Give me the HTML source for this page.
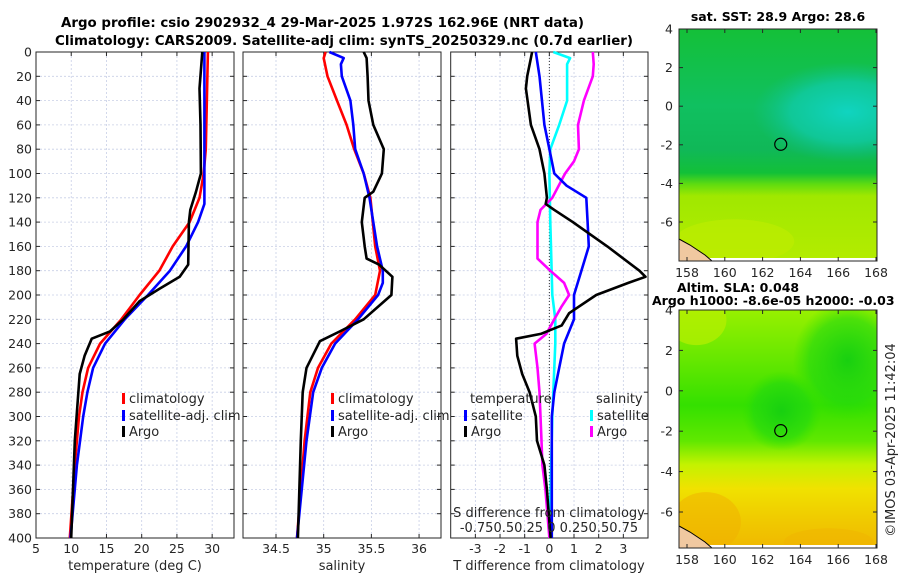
<!DOCTYPE html>
<html><head><meta charset="utf-8"><style>
html,body{margin:0;padding:0;background:#fff;}
svg{display:block;font-family:"DejaVu Sans","Liberation Sans",sans-serif;}
</style></head><body>
<svg id="fig" width="900" height="580" viewBox="0 0 900 580" xmlns="http://www.w3.org/2000/svg">
<defs>
<linearGradient id="sstGrad" x1="0" y1="0" x2="0" y2="1">
<stop offset="0" stop-color="#14c038"/><stop offset="0.33" stop-color="#10c060"/><stop offset="0.52" stop-color="#10b858"/><stop offset="0.62" stop-color="#12c038"/><stop offset="0.67" stop-color="#60dc10"/><stop offset="0.72" stop-color="#a0e800"/><stop offset="1" stop-color="#b4ec00"/>
</linearGradient>
<radialGradient id="tealBlob"><stop offset="0" stop-color="#10d4c0" stop-opacity="1"/><stop offset="0.6" stop-color="#10ccb0" stop-opacity="0.7"/><stop offset="1" stop-color="#10c090" stop-opacity="0"/></radialGradient>
<linearGradient id="slaGrad" x1="0" y1="0" x2="0" y2="1">
<stop offset="0" stop-color="#98f000"/><stop offset="0.2" stop-color="#68e800"/><stop offset="0.4" stop-color="#34e000"/><stop offset="0.55" stop-color="#60e800"/><stop offset="0.65" stop-color="#c4f200"/><stop offset="0.75" stop-color="#f0e200"/><stop offset="0.87" stop-color="#f0cc00"/><stop offset="1" stop-color="#f0b800"/>
</linearGradient>
<radialGradient id="greenBlob"><stop offset="0" stop-color="#18d010" stop-opacity="1"/><stop offset="0.7" stop-color="#20d810" stop-opacity="0.6"/><stop offset="1" stop-color="#30e000" stop-opacity="0"/></radialGradient>
<clipPath id="clipTop"><rect x="679" y="29" width="198" height="232"/></clipPath>
<clipPath id="clipBot"><rect x="679" y="310" width="198" height="238"/></clipPath>
</defs>
<text x="61" y="27" font-size="13" font-weight="bold" textLength="523" lengthAdjust="spacingAndGlyphs">Argo profile: csio 2902932_4 29-Mar-2025 1.972S 162.96E (NRT data)</text>
<text x="55" y="45" font-size="13" font-weight="bold" textLength="578" lengthAdjust="spacingAndGlyphs">Climatology: CARS2009. Satellite-adj clim: synTS_20250329.nc (0.7d earlier)</text>
<g id="panels"></g>
<g id="maps"></g>
<text transform="translate(895,440) rotate(-90)" text-anchor="middle" font-size="13" fill="#262626">©IMOS 03-Apr-2025 11:42:04</text>
</svg>
<script>
// ---------- data ----------
const depthTicks = [0,20,40,60,80,100,120,140,160,180,200,220,240,260,280,300,320,340,360,380,400];
const tempTicks = [5,10,15,20,25,30];
const salTicks = [34.5,35,35.5,36];
const dTicks = [-3,-2,-1,0,1,2,3];

const climTDepth = [0,80,100,120,140,160,180,200,220,240,260,280,300,340,400];
const climT = [29.4,29.1,28.8,28.2,26.8,24.4,22.5,19.7,17.1,14.1,12.4,11.6,11.1,10.5,9.8];
const satTDepth = [0,120,125,140,160,180,200,220,240,260,280,300,340,400];
const satT = [28.9,28.9,28.9,28.0,26.3,24.0,20.9,17.6,14.8,13.1,12.3,11.7,10.8,9.9];
const argoTDepth = [0,30,60,100,115,130,140,175,185,195,205,220,230,236,250,265,320,400];
const argoT = [28.6,28.2,28.35,28.4,27.7,26.9,26.7,26.6,25.4,22.5,19.7,17.4,15.5,12.9,11.9,11.2,10.5,10.0];

const climSDepth = [0,5,20,40,60,80,100,120,160,180,200,220,240,260,280,320,400];
const climS = [35.02,35.0,35.04,35.14,35.24,35.32,35.42,35.49,35.54,35.59,35.54,35.33,35.08,34.94,34.86,34.80,34.72];
const satSDepth = [0,5,10,20,40,60,80,100,120,160,180,190,200,220,240,260,280,320,400];
const satS = [35.06,35.21,35.18,35.19,35.28,35.31,35.33,35.42,35.48,35.56,35.62,35.62,35.57,35.36,35.12,34.98,34.89,34.82,34.72];
const argoSDepth = [0,5,20,40,60,80,100,115,120,140,160,170,175,185,200,220,230,238,260,280,320,400];
const argoS = [35.42,35.45,35.46,35.47,35.52,35.63,35.61,35.52,35.43,35.40,35.43,35.45,35.58,35.72,35.71,35.42,35.17,34.96,34.82,34.78,34.76,34.73];

const satDTDepth = [0,20,60,80,100,110,120,140,160,180,200,220,240,260,280,300,400];
const satDT = [-0.55,-0.4,-0.2,0,0.2,0.7,1.5,1.55,1.6,1.3,1.0,1.0,0.6,0.4,0.2,0.1,0.1];
const argoDTDepth = [0,5,20,30,60,80,100,120,125,130,140,160,180,185,190,200,215,225,232,236,250,265,280,300,320,340,360,400];
const argoDT = [-0.7,-0.75,-0.9,-0.95,-0.75,-0.4,-0.2,-0.1,-0.15,0.2,0.95,2.35,3.65,3.9,3.2,1.9,0.8,0.5,-0.35,-1.35,-1.3,-1.1,-0.8,-0.55,-0.5,-0.2,-0.1,0.05];
const satDSDepth = [0,5,10,40,60,80,100,140,200,220,240,300,400];
const satDS = [0.04,0.21,0.18,0.18,0.10,0.01,0,0.01,0.03,0.06,0.06,0.03,0];
const argoDSDepth = [0,10,20,40,60,80,90,100,120,130,140,160,170,180,190,200,210,220,232,240,260,280,300,320,340,360,400];
const argoDS = [0.44,0.45,0.44,0.35,0.29,0.30,0.25,0.16,0.03,-0.09,-0.12,-0.12,-0.12,0.01,0.15,0.2,0.12,0.05,-0.03,-0.15,-0.12,-0.1,-0.09,-0.08,-0.07,-0.04,0];

// ---------- helpers ----------
const NS = "http://www.w3.org/2000/svg";
const Y0 = 52, Y1 = 538;
const yDepth = d => Y0 + d * (Y1 - Y0) / 400;
function el(tag, attrs, parent){ const e=document.createElementNS(NS,tag); for(const k in attrs) e.setAttribute(k,attrs[k]); parent.appendChild(e); return e; }
const panels = document.getElementById('panels');

function makePanel(name, x0, x1, vmin, vmax, xticks, xtickLabels, showDepthLabels){
  const g = el('g',{},panels);
  
  
  const xs = v => x0 + (v - vmin) * (x1 - x0) / (vmax - vmin);
  depthTicks.forEach(d=>{
    const l = el('line',{x1:x0,x2:x1,y1:yDepth(d),y2:yDepth(d),stroke:'#c8cfe6','stroke-width':0.8,'stroke-dasharray':'2,2'},g);
    
    
    el('line',{x1:x0,x2:x0+4,y1:yDepth(d),y2:yDepth(d),stroke:'#262626','stroke-width':1},g);
    el('line',{x1:x1-4,x2:x1,y1:yDepth(d),y2:yDepth(d),stroke:'#262626','stroke-width':1},g);
    if(showDepthLabels){
      const t = el('text',{x:x0-4,y:yDepth(d)+4.5,'text-anchor':'end','font-size':12.5,fill:'#262626'},g);
      
      
      t.textContent = d;
    }
  });
  xticks.forEach((v,i)=>{
    const l = el('line',{x1:xs(v),x2:xs(v),y1:Y0,y2:Y1,stroke:'#c8cfe6','stroke-width':0.8,'stroke-dasharray':'2,2'},g);
    
    
    el('line',{x1:xs(v),x2:xs(v),y1:Y1-4,y2:Y1,stroke:'#262626','stroke-width':1},g);
    el('line',{x1:xs(v),x2:xs(v),y1:Y0,y2:Y0+4,stroke:'#262626','stroke-width':1},g);
    const t = el('text',{x:xs(v),y:553,'text-anchor':'middle','font-size':12.5,fill:'#262626'},g);
    
    
    t.textContent = xtickLabels[i];
  });
  const b = el('rect',{x:x0,y:Y0,width:x1-x0,height:Y1-Y0,fill:'none',stroke:'#262626','stroke-width':1},g);
  
  
  return {g, xs};
}
function drawLine(p, vals, depths, color, name, scale){
  const pts = vals.map((v,i)=>p.xs(v*(scale||1)).toFixed(1)+','+yDepth(depths[i]).toFixed(1)).join(' ');
  const l = el('polyline',{points:pts,fill:'none',stroke:color,'stroke-width':2.6,'stroke-linejoin':'round'},p.g);
  
  
}
function legendEntry(g,xBar,y,color,label,name){
  el('rect',{x:xBar,y:y-10,width:3,height:11,fill:color},g);
  const t = el('text',{x:xBar+7,y:y,'font-size':13,fill:'#262626'},g);
  t.textContent = label;
  
  
}
function label(g,x,y,txt,name,anchor,size){
  const t = el('text',{x:x,y:y,'text-anchor':anchor||'middle','font-size':size||13,fill:'#262626'},g);
  
  
  t.textContent = txt;
  return t;
}

// ---------- panel 1: temperature ----------
const p1 = makePanel('temperature-panel',36,234,5,33.1,tempTicks,tempTicks.map(String),true);
drawLine(p1,climT,climTDepth,'#ff0000','climatology-temperature-line');
drawLine(p1,satT,satTDepth,'#0000ff','satellite-temperature-line');
drawLine(p1,argoT,argoTDepth,'#000000','argo-temperature-line');
legendEntry(p1.g,122,403,'#ff0000','climatology','legend-climatology');
legendEntry(p1.g,122,420,'#0000ff','satellite-adj. clim','legend-satellite-adj');
legendEntry(p1.g,122,436,'#000000','Argo','legend-argo');
label(p1.g,135,570,'temperature (deg C)','x-axis-title-temperature');

// ---------- panel 2: salinity ----------
const p2 = makePanel('salinity-panel',243,441,34.154,36.23,salTicks,salTicks.map(String),false);
drawLine(p2,climS,climSDepth,'#ff0000','climatology-salinity-line');
drawLine(p2,satS,satSDepth,'#0000ff','satellite-salinity-line');
drawLine(p2,argoS,argoSDepth,'#000000','argo-salinity-line');
legendEntry(p2.g,331,403,'#ff0000','climatology','legend-climatology-2');
legendEntry(p2.g,331,420,'#0000ff','satellite-adj. clim','legend-satellite-adj-2');
legendEntry(p2.g,331,436,'#000000','Argo','legend-argo-2');
label(p2.g,342,570,'salinity','x-axis-title-salinity');

// ---------- panel 3: differences ----------
const p3 = makePanel('difference-panel',450.7,648,-4,4,dTicks,dTicks.map(String),false);
const z = el('line',{x1:p3.xs(0),x2:p3.xs(0),y1:Y0,y2:Y1,stroke:'#333','stroke-width':1,'stroke-dasharray':'1,2'},p3.g);


drawLine(p3,satDS,satDSDepth,'#00ffff','satellite-salinity-diff-line',4);
drawLine(p3,argoDS,argoDSDepth,'#ff00ff','argo-salinity-diff-line',4);
drawLine(p3,satDT,satDTDepth,'#0000ff','satellite-temperature-diff-line');
drawLine(p3,argoDT,argoDTDepth,'#000000','argo-temperature-diff-line');
label(p3.g,470,403,'temperature','legend-temperature-header','start');
legendEntry(p3.g,464,420,'#0000ff','satellite','legend-temp-satellite');
legendEntry(p3.g,464,436,'#000000','Argo','legend-temp-argo');
label(p3.g,596,403,'salinity','legend-salinity-header','start');
legendEntry(p3.g,590,420,'#00ffff','satellite','legend-sal-satellite');
legendEntry(p3.g,590,436,'#ff00ff','Argo','legend-sal-argo');
label(p3.g,549,517,'S difference from climatology','s-diff-axis-title');
label(p3.g,549,532,'-0.750.50.25 0  0.250.50.75','s-diff-tick-labels');
label(p3.g,549,570,'T difference from climatology','x-axis-title-tdiff');

// ---------- maps ----------
const maps = document.getElementById('maps');
const lonTicks = [158,160,162,164,166,168];
const latTicks = [4,2,0,-2,-4,-6];
const argoLon = 162.96, argoLat = -1.972;
const lonX = lon => 687 + (lon-158)*18.9;
function makeMap(name, top, bottom, pxPerDeg, fillGrad, clip, title){
  const g = el('g',{},maps);
  
  
  const latY = lat => top + (4-lat)*pxPerDeg;
  const inner = el('g',{'clip-path':'url(#'+clip+')'},g);
  el('rect',{x:679,y:top,width:198,height:bottom-top,fill:'url(#'+fillGrad+')'},inner);
  if(name==='sst-map'){
    el('ellipse',{cx:lonX(166.5),cy:latY(-0.3),rx:95,ry:50,fill:'url(#tealBlob)'},inner);
    el('ellipse',{cx:lonX(160.5),cy:latY(-7),rx:60,ry:22,fill:'#c0ec00',opacity:0.6},inner);
  } else {
    el('ellipse',{cx:lonX(158.5),cy:latY(3.5),rx:30,ry:25,fill:'#b8f000',opacity:0.7},inner);
    el('ellipse',{cx:lonX(163),cy:latY(-1),rx:40,ry:40,fill:'url(#greenBlob)'},inner);
    el('ellipse',{cx:lonX(166.5),cy:latY(1.5),rx:55,ry:60,fill:'url(#greenBlob)'},inner);
    el('ellipse',{cx:lonX(159),cy:latY(-6.5),rx:35,ry:30,fill:'#f0b000',opacity:0.5},inner);
    el('ellipse',{cx:lonX(165.5),cy:latY(-7.5),rx:45,ry:14,fill:'#f0b400',opacity:0.5},inner);
  }
  el('rect',{x:679,y:bottom-3,width:198,height:3,fill:'#fff'},inner);
  el('path',{d:'M679,'+(bottom-22)+' L690,'+(bottom-16)+' L705,'+(bottom-6)+' L712,'+bottom+' L679,'+bottom+'Z',fill:'#f0c8a0',stroke:'#000','stroke-width':1},inner);
  const c = el('circle',{cx:lonX(argoLon),cy:latY(argoLat),r:6,fill:'none',stroke:'#000','stroke-width':1.2},g);
  
  
  el('rect',{x:679,y:top,width:198,height:bottom-top,fill:'none',stroke:'#262626','stroke-width':1},g);
  lonTicks.forEach(lon=>{
    el('line',{x1:lonX(lon),x2:lonX(lon),y1:bottom,y2:bottom-4,stroke:'#262626'},g);
    el('line',{x1:lonX(lon),x2:lonX(lon),y1:top,y2:top+4,stroke:'#262626'},g);
    label(g,lonX(lon),bottom+16,String(lon),'lon-tick-label','middle',12.5);
  });
  latTicks.forEach(lat=>{
    el('line',{x1:679,x2:683,y1:latY(lat),y2:latY(lat),stroke:'#262626'},g);
    el('line',{x1:873,x2:877,y1:latY(lat),y2:latY(lat),stroke:'#262626'},g);
    label(g,673,latY(lat)+4.5,String(lat),'lat-tick-label','end',12.5);
  });
  if(title){
    const t = el('text',{x:778,y:top-8,'text-anchor':'middle','font-size':12.5,'font-weight':'bold',fill:'#000'},g);
    
    
    t.textContent = title;
  }
}
makeMap('sst-map',29,261,19.3,'sstGrad','clipTop','sat. SST: 28.9 Argo: 28.6');
makeMap('sla-map',310,548,20.2,'slaGrad','clipBot','');
const a1 = el('text',{x:677,y:292,'font-size':12.5,'font-weight':'bold',fill:'#000'},maps);


a1.textContent = 'Altim. SLA: 0.048';
const a2 = el('text',{x:652,y:305,'font-size':12.5,'font-weight':'bold',fill:'#000'},maps);


a2.textContent = 'Argo h1000: -8.6e-05 h2000: -0.03';
</script>
</body></html>
